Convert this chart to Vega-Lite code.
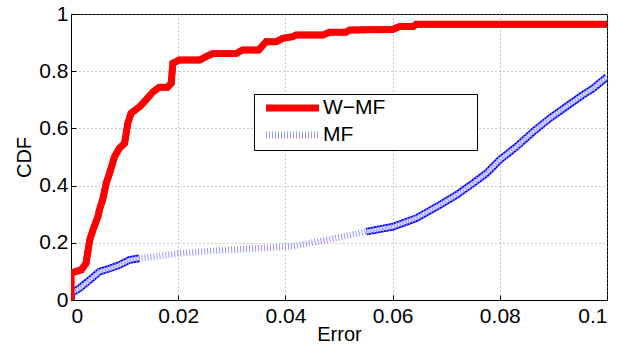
{
  "$schema": "https://vega.github.io/schema/vega-lite/v6.json",
  "width": 536,
  "height": 286,
  "autosize": {"type": "none"},
  "padding": {"left": 71, "top": 14, "right": 13, "bottom": 45},
  "background": "white",
  "config": {
    "view": {"stroke": "#000000", "strokeWidth": 1},
    "font": "Liberation Sans",
    "axis": {
      "domainColor": "#000000",
      "tickColor": "#000000",
      "tickSize": -5,
      "labelFont": "Liberation Sans",
      "labelFontSize": 21,
      "labelColor": "#000000",
      "titleFont": "Liberation Sans",
      "titleFontSize": 20,
      "titleFontWeight": "normal",
      "titleColor": "#000000",
      "gridColor": "#888888",
      "gridDash": [1, 3],
      "gridOpacity": 0.9
    },
    "legend": {
      "labelFont": "Liberation Sans",
      "labelFontSize": 21,
      "labelColor": "#000000"
    }
  },
  "data": {
    "values": [
      {"s": "W−MF", "x": 0, "y": 0},
      {"s": "W−MF", "x": 0, "y": 0.094},
      {"s": "W−MF", "x": 0.001, "y": 0.1},
      {"s": "W−MF", "x": 0.0019, "y": 0.105},
      {"s": "W−MF", "x": 0.0028, "y": 0.128},
      {"s": "W−MF", "x": 0.0035, "y": 0.21},
      {"s": "W−MF", "x": 0.0041, "y": 0.245},
      {"s": "W−MF", "x": 0.005, "y": 0.29},
      {"s": "W−MF", "x": 0.0053, "y": 0.315},
      {"s": "W−MF", "x": 0.0059, "y": 0.35},
      {"s": "W−MF", "x": 0.0066, "y": 0.41},
      {"s": "W−MF", "x": 0.0072, "y": 0.443},
      {"s": "W−MF", "x": 0.0081, "y": 0.5},
      {"s": "W−MF", "x": 0.009, "y": 0.53},
      {"s": "W−MF", "x": 0.01, "y": 0.548},
      {"s": "W−MF", "x": 0.0106, "y": 0.618},
      {"s": "W−MF", "x": 0.0112, "y": 0.653},
      {"s": "W−MF", "x": 0.0128, "y": 0.676},
      {"s": "W−MF", "x": 0.014, "y": 0.7},
      {"s": "W−MF", "x": 0.0153, "y": 0.728},
      {"s": "W−MF", "x": 0.0165, "y": 0.744},
      {"s": "W−MF", "x": 0.018, "y": 0.744},
      {"s": "W−MF", "x": 0.0187, "y": 0.758},
      {"s": "W−MF", "x": 0.019, "y": 0.828},
      {"s": "W−MF", "x": 0.0202, "y": 0.839},
      {"s": "W−MF", "x": 0.024, "y": 0.839},
      {"s": "W−MF", "x": 0.0252, "y": 0.851},
      {"s": "W−MF", "x": 0.0265, "y": 0.862},
      {"s": "W−MF", "x": 0.0308, "y": 0.862},
      {"s": "W−MF", "x": 0.032, "y": 0.874},
      {"s": "W−MF", "x": 0.035, "y": 0.874},
      {"s": "W−MF", "x": 0.0364, "y": 0.903},
      {"s": "W−MF", "x": 0.0383, "y": 0.903},
      {"s": "W−MF", "x": 0.0395, "y": 0.915},
      {"s": "W−MF", "x": 0.0414, "y": 0.921},
      {"s": "W−MF", "x": 0.042, "y": 0.927},
      {"s": "W−MF", "x": 0.047, "y": 0.927},
      {"s": "W−MF", "x": 0.0482, "y": 0.936},
      {"s": "W−MF", "x": 0.0513, "y": 0.936},
      {"s": "W−MF", "x": 0.052, "y": 0.944},
      {"s": "W−MF", "x": 0.06, "y": 0.946},
      {"s": "W−MF", "x": 0.0613, "y": 0.956},
      {"s": "W−MF", "x": 0.0638, "y": 0.956},
      {"s": "W−MF", "x": 0.0644, "y": 0.964},
      {"s": "W−MF", "x": 0.1, "y": 0.964},
      {"s": "MF", "x": 0, "y": 0},
      {"s": "MF", "x": 0, "y": 0.023},
      {"s": "MF", "x": 0.0016, "y": 0.041},
      {"s": "MF", "x": 0.0035, "y": 0.07},
      {"s": "MF", "x": 0.0053, "y": 0.099},
      {"s": "MF", "x": 0.0072, "y": 0.11},
      {"s": "MF", "x": 0.009, "y": 0.122},
      {"s": "MF", "x": 0.0109, "y": 0.14},
      {"s": "MF", "x": 0.0128, "y": 0.146},
      {"s": "MF", "x": 0.0165, "y": 0.154},
      {"s": "MF", "x": 0.0202, "y": 0.163},
      {"s": "MF", "x": 0.0258, "y": 0.171},
      {"s": "MF", "x": 0.035, "y": 0.181},
      {"s": "MF", "x": 0.0414, "y": 0.188},
      {"s": "MF", "x": 0.0488, "y": 0.214},
      {"s": "MF", "x": 0.0551, "y": 0.239},
      {"s": "MF", "x": 0.06, "y": 0.256},
      {"s": "MF", "x": 0.0644, "y": 0.286},
      {"s": "MF", "x": 0.0688, "y": 0.332},
      {"s": "MF", "x": 0.0719, "y": 0.367},
      {"s": "MF", "x": 0.075, "y": 0.408},
      {"s": "MF", "x": 0.0775, "y": 0.443},
      {"s": "MF", "x": 0.08, "y": 0.49},
      {"s": "MF", "x": 0.0831, "y": 0.536},
      {"s": "MF", "x": 0.0862, "y": 0.588},
      {"s": "MF", "x": 0.0893, "y": 0.635},
      {"s": "MF", "x": 0.0924, "y": 0.676},
      {"s": "MF", "x": 0.0955, "y": 0.717},
      {"s": "MF", "x": 0.0974, "y": 0.74},
      {"s": "MF", "x": 0.1, "y": 0.78}
    ]
  },
  "encoding": {
    "x": {
      "field": "x", "type": "quantitative",
      "scale": {"domain": [0, 0.1], "nice": false},
      "axis": {"values": [0, 0.02, 0.04, 0.06, 0.08, 0.1], "format": "~g", "title": "Error", "grid": true, "labelPadding": 10, "titlePadding": -2}
    },
    "y": {
      "field": "y", "type": "quantitative",
      "scale": {"domain": [0, 1], "nice": false},
      "axis": {"values": [0, 0.2, 0.4, 0.6, 0.8, 1], "format": "~g", "title": "CDF", "grid": true, "labelPadding": 8, "titlePadding": 4}
    },
    "order": {"value": null}
  },
  "layer": [
    {
      "transform": [{"filter": "datum.s == 'MF' && datum.x <= 0.0128"}],
      "mark": {"type": "line", "color": "#0000ff", "strokeWidth": 7.5, "clip": true}
    },
    {
      "transform": [{"filter": "datum.s == 'MF' && datum.x >= 0.0551"}],
      "mark": {"type": "line", "color": "#0000ff", "strokeWidth": 7.5, "clip": true}
    },
    {
      "transform": [{"filter": "datum.s == 'MF' && datum.x <= 0.0128"}],
      "mark": {"type": "line", "color": "#d8d8ff", "strokeWidth": 4, "clip": true}
    },
    {
      "transform": [{"filter": "datum.s == 'MF' && datum.x >= 0.0551"}],
      "mark": {"type": "line", "color": "#d8d8ff", "strokeWidth": 4, "clip": true}
    },
    {
      "mark": {"type": "line", "strokeWidth": 6.5, "clip": true},
      "encoding": {
        "color": {
          "field": "s", "type": "nominal",
          "scale": {"domain": ["W−MF", "MF"], "range": ["#ff0000", "#9999ff"]},
          "legend": {
            "title": null,
            "orient": "none",
            "legendX": 183,
            "legendY": 80,
            "strokeColor": "#000000",
            "fillColor": "#ffffff",
            "padding": 1,
            "rowPadding": -1,
            "symbolType": "M-0.21,0H5.37",
            "symbolSize": 361,
            "symbolStrokeWidth": 7,
            "labelOffset": 42,
            "labelLimit": 400,
            "labelExpr": "datum.label == 'W−MF' ? 'W−MF\u2800\u2800\u2800\u2800\u2800\u2800' : datum.label"
          }
        },
        "strokeDash": {
          "field": "s", "type": "nominal",
          "scale": {"domain": ["W−MF", "MF"], "range": [[1, 0], [1, 2]]},
          "legend": null
        }
      }
    },
    {
      "transform": [{"filter": "datum.s == 'W−MF'"}],
      "mark": {"type": "line", "color": "#ff0000", "strokeWidth": 7, "clip": true}
    }
  ]
}
